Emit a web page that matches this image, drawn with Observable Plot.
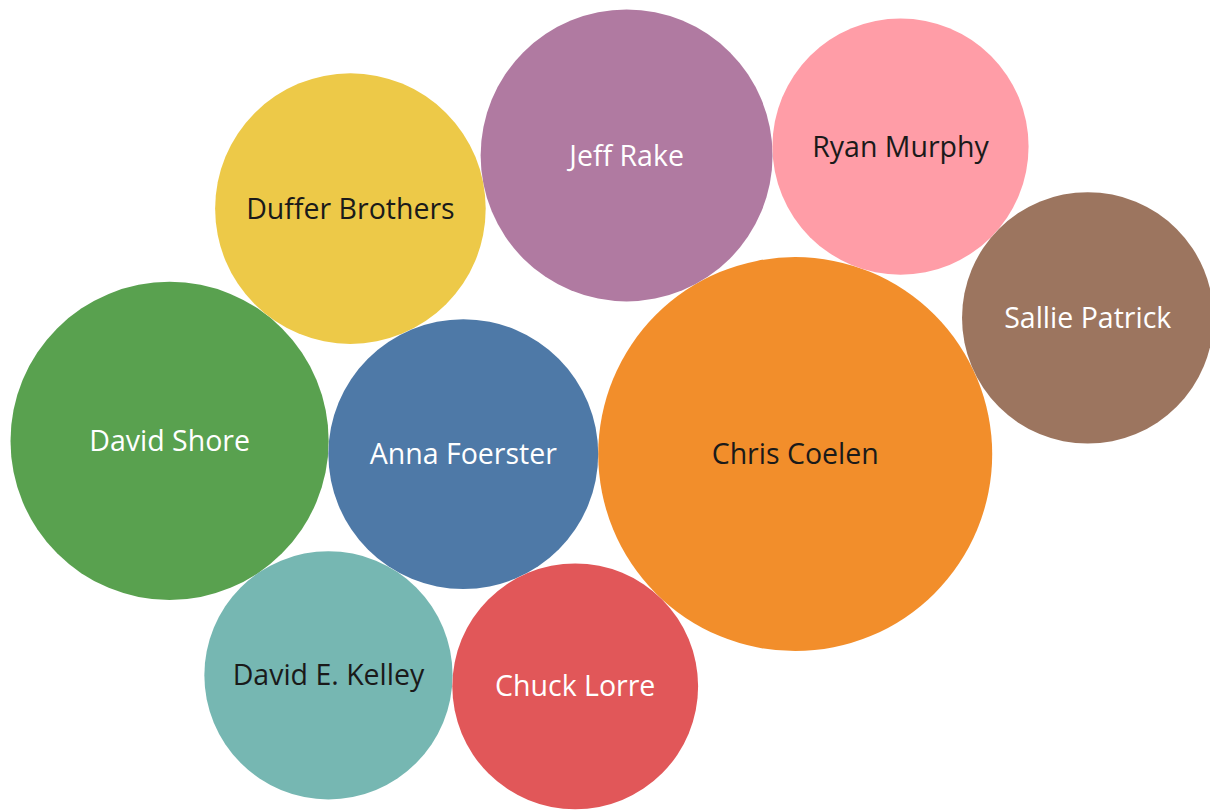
<!DOCTYPE html>
<html>
<head>
<meta charset="utf-8">
<script src="https://cdn.jsdelivr.net/npm/d3@7"></script>
<script src="https://cdn.jsdelivr.net/npm/@observablehq/plot@0.6"></script>
<style>
  html, body { margin: 0; padding: 0; background: #ffffff; }
  #chart { width: 1210px; height: 810px; overflow: hidden; }
</style>
</head>
<body>
<div id="chart"></div>
<script>
// ---- Data ----
const creators = ["Chris Coelen", "Anna Foerster", "Chuck Lorre", "David E. Kelley", "David Shore",
                  "Duffer Brothers", "Jeff Rake", "Ryan Murphy", "Sallie Patrick"];
const values   = [38.8, 18.2, 15.1, 15.4, 25.3, 18.3, 21.3, 16.4, 15.8];
const colors   = ["#f28e2b", "#4e79a7", "#e15759", "#76b7b2", "#59a14f",
                  "#edc948", "#b07aa1", "#ff9da7", "#9c755f"];
const darkText = ["Chris Coelen", "David E. Kelley", "Duffer Brothers", "Ryan Murphy"];
// packing topology: each bubble is set tangent to two already placed bubbles
const anchorA  = [null, "Chris Coelen", "Anna Foerster", "Anna Foerster", "Anna Foerster",
                  "Anna Foerster", "Chris Coelen", "Chris Coelen", "Chris Coelen"];
const anchorB  = [null, null, "Chris Coelen", "Chuck Lorre", "David E. Kelley",
                  "David Shore", "Duffer Brothers", "Jeff Rake", "Ryan Murphy"];

// ---- Size scale (shared by layout and Plot's r scale) ----
const rMax = 197;
const rDomain = [0, d3.max(values)];
const rScale = d3.scaleSqrt().domain(rDomain).range([0, rMax]);

// ---- Packed-bubble layout (tangent placement) ----
const nodes = creators.map((name, i) => ({name, value: values[i], color: colors[i], r: rScale(values[i])}));
const byName = new Map(nodes.map(d => [d.name, d]));
function place(a, b, rc) {
  const da = a.r + rc, db = b.r + rc;
  const dx = b.x - a.x, dy = b.y - a.y, d = Math.hypot(dx, dy);
  const t = (da * da - db * db + d * d) / (2 * d);
  const h = Math.sqrt(Math.max(0, da * da - t * t));
  const ux = dx / d, uy = dy / d;
  return {x: a.x + ux * t - uy * h, y: a.y + uy * t + ux * h};
}
nodes.forEach((n, i) => {
  if (i === 0) { n.x = 0; n.y = 0; return; }
  const a = byName.get(anchorA[i]);
  if (anchorB[i] == null) { n.x = a.x - a.r - n.r; n.y = a.y; return; }
  const p = place(a, byName.get(anchorB[i]), n.r);
  n.x = p.x; n.y = p.y;
});
const xmin = d3.min(nodes, d => d.x - d.r);
const ymin = d3.min(nodes, d => d.y - d.r);

const W = 1210, H = 810, padL = 10, padT = 9;

const chart = Plot.plot({
  width: W,
  height: H,
  margin: 0,
  style: {background: "#ffffff", overflow: "hidden"},
  x: {domain: [xmin, xmin + (W - padL)], range: [padL, W], axis: null},
  y: {domain: [ymin, ymin + (H - padT)], range: [padT, H], axis: null},
  r: {type: "sqrt", domain: rDomain, range: [0, rMax]},
  marks: [
    Plot.dot(nodes, {x: "x", y: "y", r: "value", fill: "color", stroke: null, fillOpacity: 1}),
    Plot.text(nodes, {
      x: "x", y: "y", text: "name",
      fill: d => darkText.includes(d.name) ? "#1a1a1a" : "#ffffff",
      fontSize: 28.5,
      fontFamily: "'Open Sans', 'Noto Sans', sans-serif",
      textAnchor: "middle",
      lineAnchor: "middle",
      dy: 1
    })
  ]
});
document.getElementById("chart").appendChild(chart);
</script>
</body>
</html>
